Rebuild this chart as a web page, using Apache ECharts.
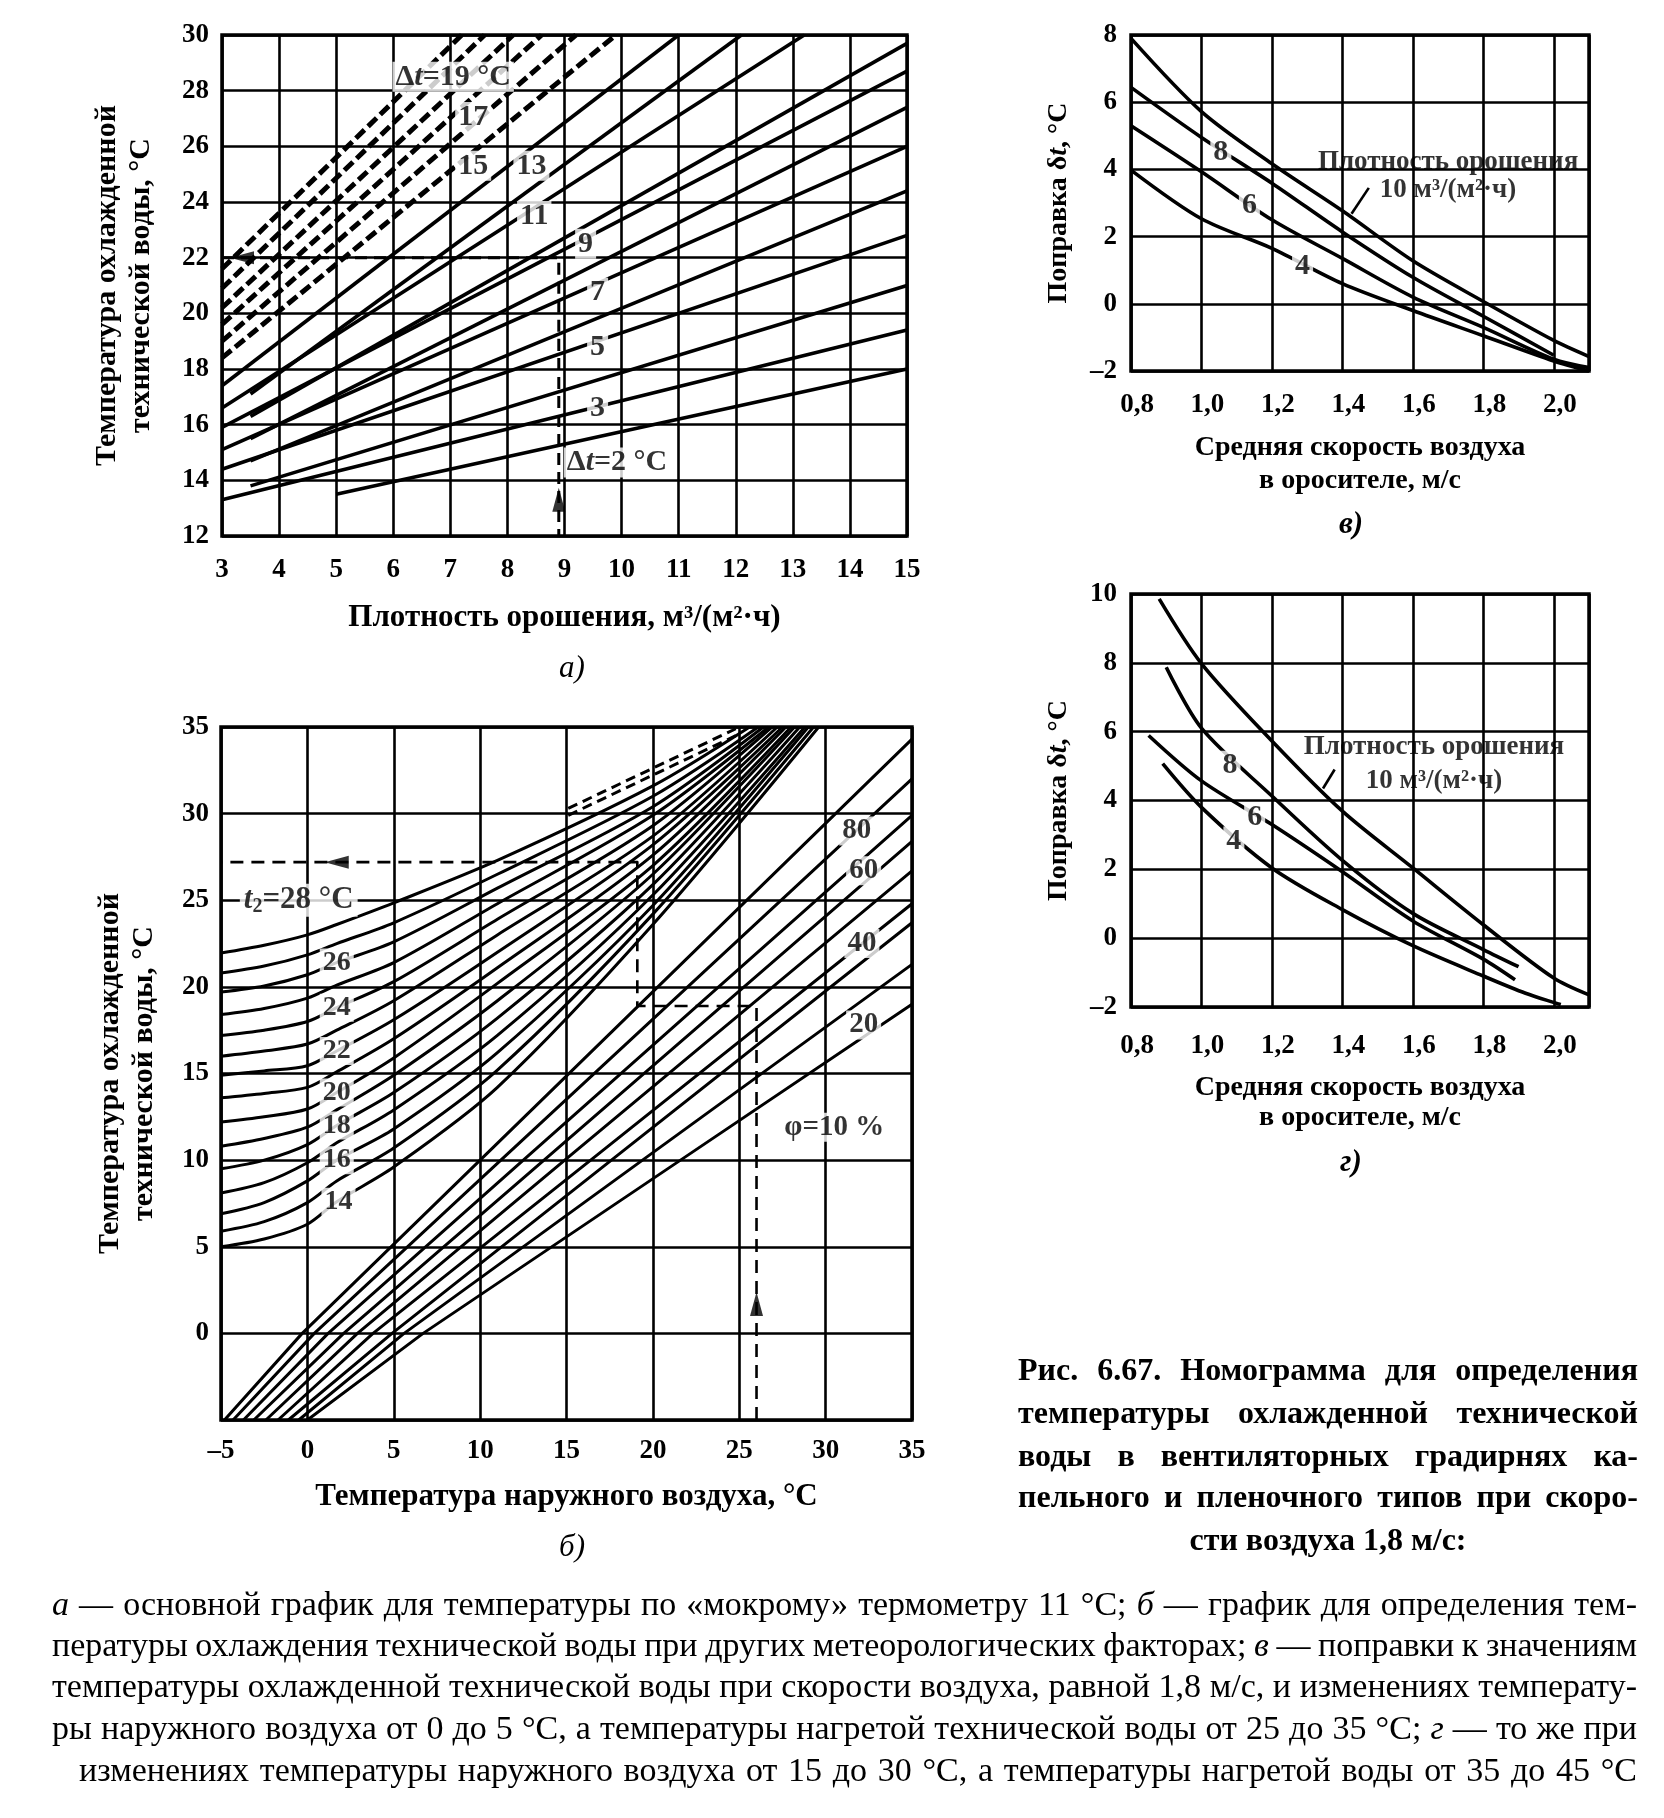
<!DOCTYPE html>
<html lang="ru">
<head>
<meta charset="utf-8">
<title>Рис. 6.67</title>
<script src="https://cdn.jsdelivr.net/npm/echarts@6.0.0/dist/echarts.min.js"></script>
<style>
html,body{margin:0;padding:0;background:#fff;}
#chart{width:1664px;height:1818px;}
</style>
</head>
<body>
<div id="chart"></div>
<script>
// ================= DATA =================
// --- Chart а: t охлажденной воды vs плотность орошения, lines for Δt ---
const aDeltaT = [2,3,4,5,6,7,8,9,10,11,12,13,14,15,16,17,18,19];
const aStartX = [5.0,3.0,3.5,3.0,3.5,3.0,3.5,3.0,3.5,3.0,3.5,3.0,3.0,3.0,3.0,3.0,3.0,3.0];
const aStartY = [13.5,13.3,13.8,14.4,14.7,15.1,15.5,15.9,16.3,16.6,17.1,17.4,18.4,19.0,19.6,20.2,20.9,21.6];
const aEndX   = [15,15,15,15,15,15,15,15,15,13.2,12.1,11.0,9.9,9.2,8.6,8.1,7.6,7.2];
const aEndY   = [18.0,19.4,21.0,22.8,24.4,26.0,27.4,28.7,29.7,30,30,30,30,30,30,30,30,30];
const aDashedFrom = 14;
const aLabelText = ['Δt=19 °C','17','15','13','11','9','7','5','3','Δt=2 °C'];
const aLabelX = [7.05,7.4,7.4,8.42,8.47,9.37,9.58,9.58,9.58,9.92];
const aLabelY = [28.5,27.05,25.3,25.3,23.5,22.5,20.74,18.77,16.6,14.64];
const aGuideX = [3, 8.9, 8.9];
const aGuideY = [22, 22, 12];
const aArrowX = [3.35, 8.9];
const aArrowY = [22, 13.3];
const aArrowRot = [90, 0];

// --- Chart б: curves t2 and lines φ ---
const bT2Levels = [14,15,16,17,18,19,20,21,22,23,24,25,26,27,28];
const bT2StationX = [-5, -2.5, 0, 1.7, 5, 11, 20];
const bT2AtM5  = [5.0,5.9,6.9,8.1,9.5,10.8,12.2,13.6,14.9,16.0,17.2,18.4,19.7,20.8,21.95];
const bT2AtM25 = [5.45,6.45,7.55,8.7,10.0,11.25,12.5,13.85,15.15,16.3,17.5,18.75,20.05,21.2,22.4];
const bT2At0   = [6.3,7.55,8.8,9.85,10.9,11.9,12.95,14.2,15.45,16.7,18.0,19.35,20.7,21.85,23.0];
const bT2At17  = [7.6,8.8,10.0,11.0,12.0,12.9,13.9,15.1,16.3,17.5,18.8,20.1,21.4,22.5,23.6];
const bT2At5   = [9.6,10.7,11.8,12.9,13.9,14.9,15.9,17.0,18.1,19.2,20.3,21.4,22.6,23.7,24.85];
const bT2At11  = [14.2,15.2,16.2,17.2,18.2,19.2,20.2,21.1,22.0,23.0,23.9,24.8,25.7,26.5,27.3];
const bT2At20  = [23.6,24.2,24.7,25.3,25.9,26.5,27.0,27.6,28.2,28.7,29.3,29.9,30.4,31.0,31.6];
const bT2TopX  = [29.6,29.3,29.0,28.8,28.5,28.2,28.0,27.7,27.5,27.2,26.9,26.7,26.4,26.1,25.6];
const bPhiBottomX = [-4.8,-4.3,-3.7,-3.1,-2.4,-1.7,-1.1,-0.5,0.0];
const bPhiAt0X    = [-0.3,0.4,1.2,2.1,2.9,3.8,4.9,5.6,6.7];
const bPhiAt10X   = [10.0,11.2,12.5,13.7,14.9,16.4,17.6,19.4,21.6];
const bPhiRightY  = [34.3,32.0,29.9,28.4,26.7,24.8,23.7,21.3,19.0];
const bT2LabelText = ['26','24','22','20','18','16','14'];
const bT2LabelX = [1.7,1.7,1.7,1.7,1.7,1.7,1.8];
const bT2LabelY = [21.4,18.8,16.3,13.9,12.0,10.0,7.6];
const bPhiLabelText = ['80','60','40','20','φ=10 %'];
const bPhiLabelX = [31.8,32.2,32.1,32.2,30.5];
const bPhiLabelY = [29.0,26.7,22.5,17.8,11.9];
const bT2MainLabel = [-0.5, 25];
const bTopDashX  = [15.1, 24.8];
const bTopDashY1 = [30.3, 34.9];
const bTopDashY2 = [29.9, 34.5];
const bGuideX = [26, 26, 19.1, 19.1, -5];
const bGuideY = [-5, 18.9, 18.9, 27.2, 27.2];
const bArrowX = [26, 1.7];
const bArrowY = [1.7, 27.2];
const bArrowRot = [0, 90];

// --- Chart в: поправка δt vs скорость воздуха ---
const vX   = [0.8,1.0,1.2,1.4,1.6,1.8,2.0,2.1];
const vQ10 = [7.9,5.72,4.17,2.77,1.28,0.07,-1.09,-1.57];
const vQ8  = [6.44,4.95,3.59,2.14,0.79,-0.37,-1.53,null];
const vQ6  = [5.3,3.93,2.5,1.35,0.2,-0.7,-1.65,-1.9];
const vQ4  = [3.98,2.53,1.65,0.6,-0.2,-0.95,-1.7,-2.0];
const vLabelText = ['8','6','4'];
const vLabelX = [1.055,1.136,1.287];
const vLabelY = [4.51,2.92,1.13];
const vNoteX = 1.70, vNoteY1 = 4.22, vNoteY2 = 3.40;
const vLeaderX = [1.475, 1.426], vLeaderY = [3.45, 2.68];

// --- Chart г ---
const gQ10X = [0.88,1.0,1.2,1.4,1.6,1.8,2.0,2.1];
const gQ10Y = [9.86,7.98,5.73,3.69,2.04,0.39,-1.16,-1.65];
const gQ8X  = [0.9,1.0,1.2,1.4,1.6,1.8,1.9];
const gQ8Y  = [7.87,6.1,4.13,2.26,0.72,-0.33,-0.83];
const gQ6X  = [0.85,1.0,1.2,1.4,1.6,1.8,1.89];
const gQ6Y  = [5.89,4.57,3.3,1.93,0.5,-0.61,-1.21];
const gQ4X  = [0.89,1.0,1.2,1.4,1.6,1.8,1.92,2.02];
const gQ4Y  = [5.07,3.8,2.04,0.83,-0.22,-1.1,-1.6,-1.93];
const gLabelText = ['8','6','4'];
const gLabelX = [1.081,1.151,1.092];
const gLabelY = [5.01,3.52,2.81];
const gNoteX = 1.66, gNoteY1 = 5.56, gNoteY2 = 4.57;
const gLeaderX = [1.378, 1.345], gLeaderY = [4.9, 4.35];

// --- Texts ---
const capLines = ['Рис. 6.67. Номограмма для определения','температуры охлажденной технической','воды в вентиляторных градирнях ка-','пельного и пленочного типов при скоро-','сти воздуха 1,8 м/с:'];
const parLines = [
 '~а — основной график для температуры по «мокрому» термометру 11 °С; ~б — график для определения тем-',
 'пературы охлаждения технической воды при других метеорологических факторах; ~в — поправки к значениям',
 'температуры охлажденной технической воды при скорости воздуха, равной 1,8 м/с, и изменениях температу-',
 'ры наружного воздуха от 0 до 5 °С, а температуры нагретой технической воды от 25 до 35 °С; ~г — то же при',
 'изменениях температуры наружного воздуха от 15 до 30 °С, а температуры нагретой воды от 35 до 45 °С'];

// ================= BUILD =================
const FONT = "'Liberation Serif','Times New Roman',serif";
const K = '#000';
const zip = (xs, ys) => xs.map((x, i) => [x, ys[i]]).filter(p => p[1] !== null && p[1] !== undefined);
const fmtNum = v => v < 0 ? '–' + Math.abs(v) : String(v);

function lineS(g, data, width, type, extra) {
  return Object.assign({
    type: 'line', xAxisIndex: g, yAxisIndex: g, data: data, symbol: 'none', silent: true,
    animation: false, z: 3, clip: true,
    lineStyle: { color: K, width: width || 3.5, type: type || 'solid', cap: 'butt', join: 'round' }
  }, extra || {});
}
function labelS(g, xs, ys, texts, fmt, style) {
  const fs = (style && style.fontSize) || 28;
  return {
    type: 'scatter', xAxisIndex: g, yAxisIndex: g, symbolSize: 1, silent: true, animation: false, z: 20,
    itemStyle: { color: 'rgba(0,0,0,0)' },
    data: texts.map((t, i) => ({ value: [xs[i], ys[i]], name: t })),
    label: Object.assign({
      show: true, position: 'inside', formatter: p => fmt ? fmt(p.name) : p.name,
      color: K, fontFamily: FONT, fontWeight: 'bold', fontSize: fs,
      backgroundColor: '#fff', padding: [0, 3],
      rich: {
        i: { fontStyle: 'italic', fontWeight: 'bold', fontFamily: FONT, fontSize: fs, color: K },
        s: { fontWeight: 'bold', fontFamily: FONT, fontSize: Math.round(fs * 0.65), color: K, verticalAlign: 'bottom', lineHeight: fs + 2 }
      }
    }, style || {}),
    labelLayout: { hideOverlap: false }
  };
}
function arrowS(g, xs, ys, rots) {
  return {
    type: 'scatter', xAxisIndex: g, yAxisIndex: g, silent: true, animation: false, z: 15,
    symbol: 'triangle', symbolSize: [13, 24], itemStyle: { color: K },
    data: xs.map((x, i) => ({ value: [x, ys[i]], symbolRotate: rots[i] }))
  };
}

const splitLine = { show: true, lineStyle: { color: K, width: 2.6 } };
const tickFont = { color: K, fontFamily: FONT, fontWeight: 'bold', fontSize: 27 };
function valAxis(g, min, max, interval, extra) {
  return Object.assign({
    gridIndex: g, type: 'value', min: min, max: max, interval: interval,
    axisLine: { show: false }, axisTick: { show: false }, splitLine: splitLine
  }, extra);
}
const gridBase = { show: true, borderColor: K, borderWidth: 3.5, backgroundColor: 'transparent', containLabel: false };

const series = [];
// Chart а lines
aDeltaT.forEach((dt, i) => {
  const dashed = dt >= aDashedFrom;
  series.push(lineS(0, [[aStartX[i], aStartY[i]], [aEndX[i], aEndY[i]]], dashed ? 5 : 3.6, dashed ? [12, 5] : 'solid'));
});
series.push(lineS(0, zip(aGuideX, aGuideY), 3.0, [12, 7], { z: 4 }));
series.push(arrowS(0, aArrowX, aArrowY, aArrowRot));
series.push(labelS(0, aLabelX, aLabelY, aLabelText, t => t.replace('t=', '{i|t}='), { fontSize: 30 }));

// Chart б
bT2Levels.forEach((lv, i) => {
  const pts = [bT2AtM5[i], bT2AtM25[i], bT2At0[i], bT2At17[i], bT2At5[i], bT2At11[i], bT2At20[i]]
    .map((y, k) => [bT2StationX[k], y]);
  pts.push([bT2TopX[i], 35]);
  series.push(lineS(1, pts, 3.0, 'solid', { smooth: 0.3 }));
});
bPhiBottomX.forEach((x, i) => {
  series.push(lineS(1, [[x, -5], [bPhiAt0X[i], 0], [bPhiAt10X[i], 10], [35, bPhiRightY[i]]], 3.0, 'solid'));
});
series.push(lineS(1, zip(bTopDashX, bTopDashY1), 3.0, [10, 6]));
series.push(lineS(1, zip(bTopDashX, bTopDashY2), 3.0, [10, 6]));
series.push(lineS(1, zip(bGuideX, bGuideY), 2.6, [13, 8], { z: 4 }));
series.push(arrowS(1, bArrowX, bArrowY, bArrowRot));
series.push(labelS(1, bT2LabelX, bT2LabelY, bT2LabelText, null, { fontSize: 28 }));
series.push(labelS(1, bPhiLabelX, bPhiLabelY, bPhiLabelText, null, { fontSize: 29 }));
series.push(labelS(1, [bT2MainLabel[0]], [bT2MainLabel[1]], ['t2=28 °C'], () => '{i|t}{s|2}=28 °C', { fontSize: 31, padding: [0, 4] }));

// Chart в
[vQ10, vQ8, vQ6, vQ4].forEach(c => series.push(lineS(2, zip(vX, c), 3.6, 'solid', { smooth: 0.3 })));
series.push(lineS(2, zip(vLeaderX, vLeaderY), 2.6, 'solid'));
series.push(labelS(2, vLabelX, vLabelY, vLabelText, null, { fontSize: 30 }));
series.push(labelS(2, [vNoteX, vNoteX], [vNoteY1, vNoteY2], ['Плотность орошения', '10 м³/(м²·ч)'], null, { fontSize: 27, backgroundColor: 'transparent' }));

// Chart г
[[gQ10X, gQ10Y], [gQ8X, gQ8Y], [gQ6X, gQ6Y], [gQ4X, gQ4Y]].forEach(c => series.push(lineS(3, zip(c[0], c[1]), 3.6, 'solid', { smooth: 0.3 })));
series.push(lineS(3, zip(gLeaderX, gLeaderY), 2.6, 'solid'));
series.push(labelS(3, gLabelX, gLabelY, gLabelText, null, { fontSize: 30 }));
series.push(labelS(3, [gNoteX, gNoteX], [gNoteY1, gNoteY2], ['Плотность орошения', '10 м³/(м²·ч)'], null, { fontSize: 27, backgroundColor: 'transparent' }));

const speedFmt = v => (Math.round(v * 10) % 2 === 0) ? v.toFixed(1).replace('.', ',') : '';
const titleA = { color: K, fontFamily: FONT, fontSize: 31, fontWeight: 'bold', lineHeight: 34 };
const titleY = { color: K, fontFamily: FONT, fontSize: 30, fontWeight: 'bold', lineHeight: 34 };
const titleB = { color: K, fontFamily: FONT, fontSize: 28, fontWeight: 'bold', lineHeight: 33 };
const italicRich = { i: { fontStyle: 'italic', fontWeight: 'bold', fontFamily: FONT, fontSize: 28, color: K } };

const option = {
  animation: false,
  backgroundColor: '#fff',
  grid: [
    Object.assign({ left: 222, top: 35, width: 685, height: 501 }, gridBase),
    Object.assign({ left: 221, top: 727, width: 691, height: 693 }, gridBase),
    Object.assign({ left: 1131, top: 35, width: 458, height: 336 }, gridBase),
    Object.assign({ left: 1131, top: 594, width: 458, height: 413 }, gridBase)
  ],
  xAxis: [
    valAxis(0, 3, 15, 1, { axisLabel: Object.assign({ margin: 21 }, tickFont),
      name: 'Плотность орошения, м³/(м²·ч)', nameLocation: 'middle', nameGap: 65, nameTextStyle: titleA }),
    valAxis(1, -5, 35, 5, { axisLabel: Object.assign({ margin: 18, formatter: fmtNum }, tickFont),
      name: 'Температура наружного воздуха, °C', nameLocation: 'middle', nameGap: 60, nameTextStyle: titleA }),
    valAxis(2, 0.8, 2.1, 0.2, { axisLabel: Object.assign({ margin: 21, formatter: speedFmt, padding: [0, 0, 0, 12] }, tickFont),
      name: 'Средняя скорость воздуха\nв оросителе, м/с', nameLocation: 'middle', nameGap: 60, nameTextStyle: titleB }),
    valAxis(3, 0.8, 2.1, 0.2, { axisLabel: Object.assign({ margin: 26, formatter: speedFmt, padding: [0, 0, 0, 12] }, tickFont),
      name: 'Средняя скорость воздуха\nв оросителе, м/с', nameLocation: 'middle', nameGap: 66, nameTextStyle: Object.assign({}, titleB, { lineHeight: 30 }) })
  ],
  yAxis: [
    valAxis(0, 12, 30, 2, { axisLabel: Object.assign({ margin: 13, formatter: fmtNum }, tickFont),
      name: 'Температура охлажденной\nтехнической воды, °C', nameLocation: 'middle', nameRotate: 90, nameGap: 64, nameTextStyle: titleY }),
    valAxis(1, -5, 35, 5, { axisLabel: Object.assign({ margin: 12, formatter: v => v === -5 ? '' : fmtNum(v) }, tickFont),
      name: 'Температура охлажденной\nтехнической воды, °C', nameLocation: 'middle', nameRotate: 90, nameGap: 60, nameTextStyle: titleY }),
    valAxis(2, -2, 8, 2, { axisLabel: Object.assign({ margin: 14, formatter: fmtNum }, tickFont),
      name: 'Поправка δ{i|t}, °C', nameLocation: 'middle', nameRotate: 90, nameGap: 56,
      nameTextStyle: Object.assign({}, titleB, { rich: italicRich }) }),
    valAxis(3, -2, 10, 2, { axisLabel: Object.assign({ margin: 14, formatter: fmtNum }, tickFont),
      name: 'Поправка δ{i|t}, °C', nameLocation: 'middle', nameRotate: 90, nameGap: 56,
      nameTextStyle: Object.assign({}, titleB, { rich: italicRich }) })
  ],
  series: series,
  graphic: []
};

// ---- captions (layout text) ----
const mctx = document.createElement('canvas').getContext('2d');
function textEl(txt, x, y, size, weight, style, align) {
  return { type: 'text', x: x, y: y, silent: true, z: 50,
    style: { text: txt, fontSize: size, fontFamily: FONT, fontWeight: weight, fontStyle: style, fill: K,
      align: align || 'left', textAlign: align || 'left', verticalAlign: 'middle', textVerticalAlign: 'middle' } };
}
function justified(line, x0, x1, y, size, weight) {
  const items = line.split(' ').map(t => {
    const it = t.charAt(0) === '~';
    const txt = it ? t.slice(1) : t;
    mctx.font = (it ? 'italic ' : '') + weight + ' ' + size + 'px ' + FONT;
    return { txt: txt, it: it, w: mctx.measureText(txt).width };
  });
  const total = items.reduce((s, a) => s + a.w, 0);
  let gap = items.length > 1 ? (x1 - x0 - total) / (items.length - 1) : 0;
  if (gap < size * 0.15) gap = size * 0.2;
  const els = [];
  let x = x0;
  items.forEach(a => { els.push(textEl(a.txt, x, y, size, weight, a.it ? 'italic' : 'normal')); x += a.w + gap; });
  return els;
}
const capY = [1372, 1415, 1458, 1499, 1542];
capLines.forEach((l, i) => {
  if (i < 4) option.graphic.push(...justified(l, 1018, 1638, capY[i], 32, 'bold'));
  else option.graphic.push(textEl(l, 1328, capY[i], 32, 'bold', 'normal', 'center'));
});
const parY = [1606, 1647, 1688, 1730, 1772];
parLines.forEach((l, i) => {
  option.graphic.push(...justified(l, i === 4 ? 79 : 52, 1637, parY[i], 34, 'normal'));
});
option.graphic.push(textEl('а)', 572, 669, 31, 'normal', 'italic', 'center'));
option.graphic.push(textEl('б)', 572, 1548, 31, 'normal', 'italic', 'center'));
option.graphic.push(textEl('в)', 1351, 525, 31, 'bold', 'italic', 'center'));
option.graphic.push(textEl('г)', 1351, 1163, 31, 'bold', 'italic', 'center'));

const chart = echarts.init(document.getElementById('chart'), null, { renderer: 'canvas', width: 1664, height: 1818 });
chart.setOption(option);
</script>
</body>
</html>
